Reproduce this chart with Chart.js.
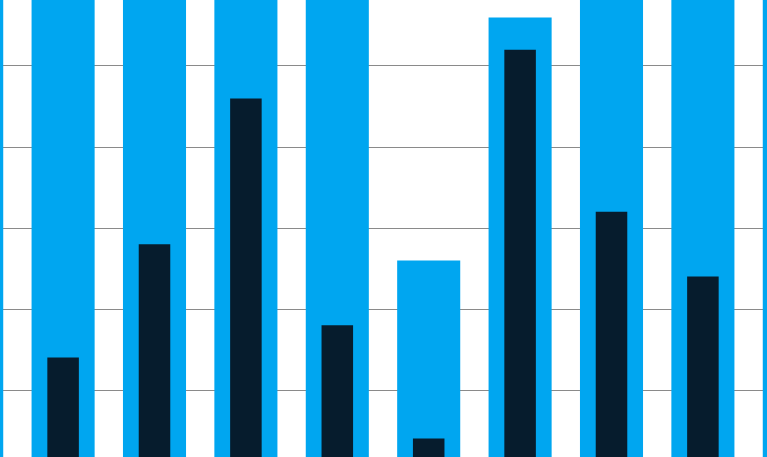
<!DOCTYPE html>
<html>
<head>
<meta charset="utf-8">
<script src="https://cdn.jsdelivr.net/npm/chart.js@4"></script>
<style>
  html, body { margin: 0; padding: 0; background: #fff; }
  body { width: 767px; height: 457px; overflow: hidden; position: relative; }
  /* the reference is a crop of a wider chart, so the canvas sticks out on every side */
  #chart { position: absolute; left: -74px; top: -15px; }
</style>
</head>
<body>
<canvas id="chart" width="914" height="486"></canvas>
<script>
// categories (the two outer ones are only partly visible at the edges)
const categories = ['C0', 'C1', 'C2', 'C3', 'C4', 'C5', 'C6', 'C7', 'C8', 'C9'];
// wide light blue bars (60 = runs past the top of the picture)
const lightValues = [60, 60, 60, 60, 60, 26, 56, 60, 60, 60];
// narrow dark bars
const darkValues = [null, 14, 28, 46, 18, 4, 52, 32, 24, null];
// y axis
const yMin = 0;
const yMax = 60;
const yStep = 10;

const ctx = document.getElementById('chart').getContext('2d');
new Chart(ctx, {
  type: 'bar',
  data: {
    labels: categories,
    datasets: [
      {
        label: 'Dark',
        data: darkValues,
        backgroundColor: '#061c2d',
        borderWidth: 0,
        barPercentage: 0.345,
        categoryPercentage: 1,
        order: 0
      },
      {
        label: 'Light',
        data: lightValues,
        backgroundColor: '#00a6f0',
        borderWidth: 0,
        barPercentage: 0.69,
        categoryPercentage: 1,
        order: 1
      }
    ]
  },
  options: {
    responsive: false,
    animation: false,
    devicePixelRatio: 1,
    grouped: false,
    layout: { padding: 0 },
    plugins: {
      legend: { display: false },
      tooltip: { enabled: false }
    },
    scales: {
      x: { display: false },
      y: {
        min: yMin,
        max: yMax,
        z: 1,
        border: { display: false },
        ticks: { display: false, stepSize: yStep },
        grid: {
          color: 'rgba(0,0,0,0.46)',
          lineWidth: 1,
          drawTicks: false
        }
      }
    }
  }
});
</script>
</body>
</html>
